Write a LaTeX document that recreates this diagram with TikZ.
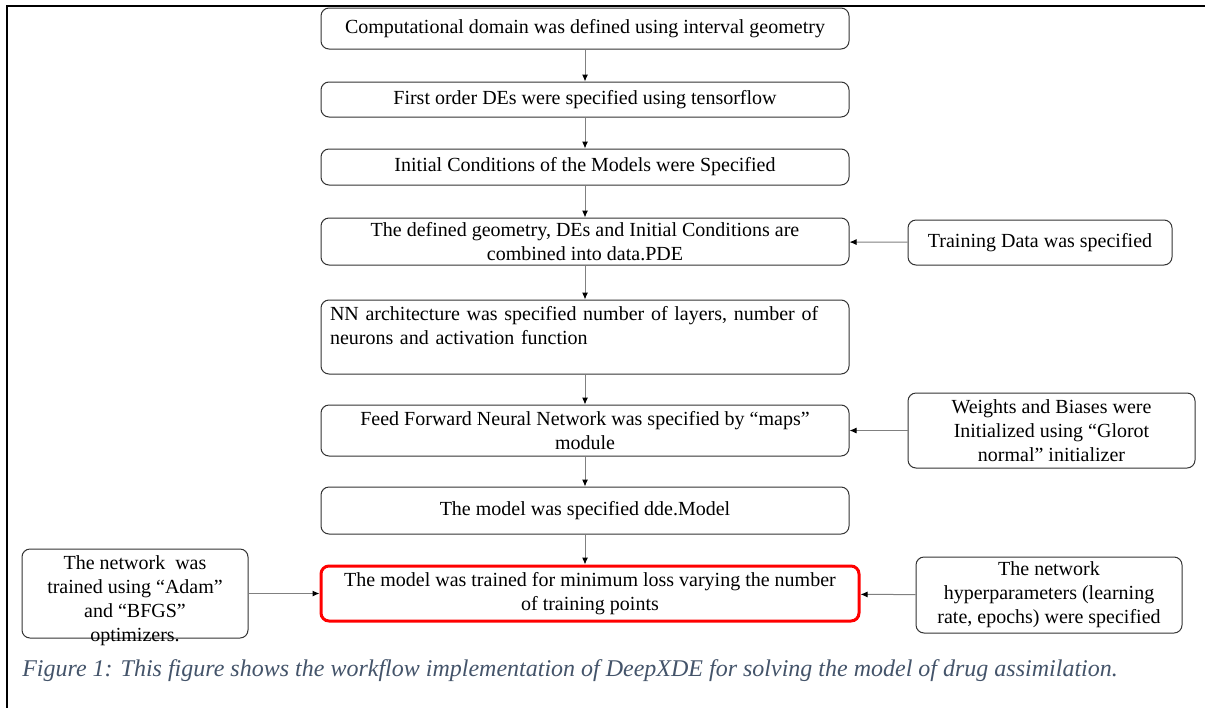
\documentclass[tikz,border=0pt]{standalone}
\usepackage{fontspec}
\setmainfont{Liberation Serif}
\usetikzlibrary{arrows.meta}
\definecolor{capcol}{HTML}{44546A}
\definecolor{boxline}{HTML}{333333}
\definecolor{arrline}{HTML}{808080}
\newcommand{\pxu}{0.75pt}
\tikzset{
  stepbox/.style={draw=boxline, line width=1*\pxu, rounded corners=8*\pxu, inner sep=0pt,
    align=center, font=\fontsize{15}{18}\selectfont},
  redbox/.style={stepbox, draw=red, line width=3*\pxu},
  conn/.style={draw=arrline, line width=1*\pxu, -{Latex[length=7*\pxu,width=6*\pxu,color=black]}},
}
\begin{document}
\begin{tikzpicture}[x=0.75pt, y=-0.75pt]
\useasboundingbox (0,0) rectangle (1205,707);
\fill[white] (0,0) rectangle (1205,707);
% frame
\draw[line width=2.8*\pxu, black] (7,708) -- (7,6) -- (1206,6);

% main column
\node[stepbox, minimum width=528*\pxu, minimum height=41*\pxu] (b1) at (585,28.5)
  {Computational domain was defined using interval geometry};
\node[stepbox, minimum width=528*\pxu, minimum height=35*\pxu] (b2) at (585,99.5)
  {First order DEs were specified using tensorflow};
\node[stepbox, minimum width=528*\pxu, minimum height=36*\pxu] (b3) at (585,167)
  {Initial Conditions of the Models were Specified};
\node[stepbox, minimum width=528*\pxu, minimum height=47*\pxu] (b4) at (585,241.5)
  {The defined geometry, DEs and Initial Conditions are\\combined into data.PDE};
\node[stepbox, minimum width=528*\pxu, minimum height=74*\pxu, text width=510*\pxu, inner xsep=9*\pxu, align=left] (b5) at (585,337)
  {NN architecture was specified number of layers, number of\\neurons and activation function\\\mbox{}};
\node[stepbox, minimum width=528*\pxu, minimum height=51*\pxu] (b6) at (585,430.5)
  {Feed Forward Neural Network was specified by “maps”\\module};
\node[stepbox, minimum width=528*\pxu, minimum height=47*\pxu] (b7) at (585,510.5)
  {The model was specified dde.Model};
\node[redbox, minimum width=538*\pxu, minimum height=55*\pxu] (b8) at (590,593.5)
  {The model was trained for minimum loss varying the number\\of training points};

% side boxes
\node[stepbox, minimum width=264*\pxu, minimum height=45*\pxu] (td) at (1040,242.5)
  {Training Data was specified};
\node[stepbox, minimum width=287*\pxu, minimum height=75*\pxu] (wb) at (1051.5,430.5)
  {Weights and Biases were\\Initialized using “Glorot\\normal” initializer};
\node[stepbox, minimum width=266*\pxu, minimum height=76*\pxu] (hp) at (1049,595)
  {The network\\hyperparameters (learning\\rate, epochs) were specified};
\node[stepbox, minimum width=226*\pxu, minimum height=89*\pxu,
  label={[align=center, font=\fontsize{15}{18}\selectfont, yshift=-7*\pxu]center:The network\ \ was\\trained using “Adam”\\and “BFGS”\\optimizers.}] (op) at (135,593.5) {};

% connectors
\draw[conn] (b1) -- (b2);
\draw[conn] (b2) -- (b3);
\draw[conn] (b3) -- (b4);
\draw[conn] (b4) -- (b5);
\draw[conn] (b5) -- (b6);
\draw[conn] (b6) -- (b7);
\draw[conn] (b7.south) -- (b7.south |- b8.north);
\draw[conn] (td) -- (b4);
\draw[conn] (wb) -- (b6);
\draw[conn] (hp) -- (b8);
\draw[conn] (op) -- (b8);

% caption
\node[anchor=base west, inner sep=0pt, text=capcol, font=\fontsize{18}{21}\selectfont\itshape] (cap) at (22,676)
  {Figure 1: This figure shows the workflow implementation of DeepXDE for solving the model of drug assimilation.};
\end{tikzpicture}
\end{document}
